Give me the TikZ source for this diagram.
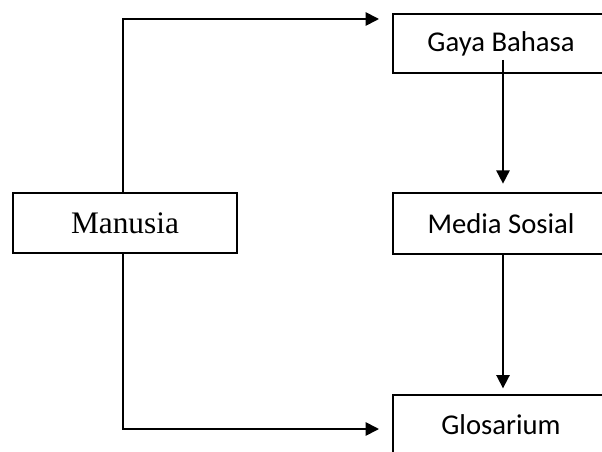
\documentclass[tikz,border=0pt]{standalone}
\usepackage{fontspec}
\setmainfont{Liberation Serif}
\newfontfamily\calibri{Carlito}
\usetikzlibrary{arrows.meta}

\tikzset{
  box/.style={draw, line width=2pt, inner sep=0.75pt, align=center},
  wordbox/.style={box, font=\calibri\fontsize{21.5}{25}\selectfont, minimum width=162pt},
  arr/.style={line width=1.3pt, -{Triangle[length=10pt,width=10pt]}},
  link/.style={line width=1.3pt}
}

\begin{document}
\begin{tikzpicture}[x=0.75pt,y=0.75pt,yscale=-1,xscale=1]
\useasboundingbox (0,0) rectangle (602,452);

%Shape: Rectangle [Manusia]
\node (manusia) [box, font=\fontsize{23.5}{27}\selectfont, minimum width=168pt, minimum height=45pt] at (125,223) {Manusia};
%Shape: Rectangle [Gaya Bahasa]
\node (gaya) [wordbox, minimum height=44.25pt] at (501,43.5) {Gaya Bahasa};
%Shape: Rectangle [Media Sosial]
\node (media) [wordbox, minimum height=45.75pt] at (501,223.5) {Media Sosial};
%Shape: Rectangle [Glosarium]
\node (glosarium) [wordbox, minimum height=45pt] at (501,425) {Glosarium};

%bend points
\coordinate (topbend) at (123,19);
\coordinate (botbend) at (123,429);
\coordinate (midline) at (503,60);

%Straight Lines
\draw [arr, shorten >=9.5pt] (manusia.north -| topbend) -- (topbend) -- (gaya.west |- topbend);
\draw [arr, shorten >=9.5pt] (manusia.south -| botbend) -- (botbend) -- (glosarium.west |- botbend);
\draw [arr, shorten >=6pt] (midline) -- (media.north -| midline);
\draw [arr, shorten >=4pt] (media.south -| midline) -- (glosarium.north -| midline);

\end{tikzpicture}
\end{document}
